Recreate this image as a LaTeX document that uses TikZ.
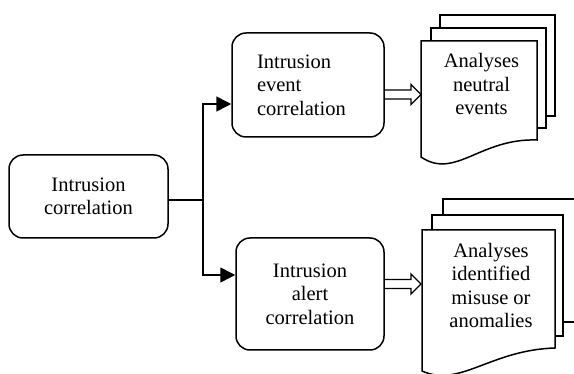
\documentclass[tikz,border=0pt]{standalone}
\usepackage{fontspec}
\setmainfont{Liberation Serif}
\usetikzlibrary{arrows.meta,calc}
\begin{document}
\begin{tikzpicture}[x=1pt,y=-1pt, line width=1.5pt,
 box/.style={draw, rounded corners=14pt, inner sep=0pt, font=\fontsize{20.5}{23.5}\selectfont, align=center},
 lbl/.style={inner sep=0pt, font=\fontsize{20.5}{23.5}\selectfont, align=center},
 doc/.style={draw, fill=white, line join=miter},
 hollow/.style={draw, line width=1.3pt, line join=miter},
 tip/.style={-{Triangle[length=15pt,width=15pt]}}]
\useasboundingbox (0,0) rectangle (574,374);
\clip (0,0) rectangle (574,374);
% boxes
\node[box, minimum width=159pt, minimum height=83pt] (ic) at (88.5,196.5) {Intrusion\\correlation};
\node[box, minimum width=152pt, minimum height=104pt, text width=102pt, align=left] (ev) at (308,85) {Intrusion\\event\\correlation};
\node[box, minimum width=148pt, minimum height=112pt] (al) at (310,294) {Intrusion\\alert\\correlation};
% document stacks
\draw[doc] (440,15) rectangle (555,116);
\draw[doc] (431,28) rectangle (546,128);
\draw[doc] (421,41) -- (537,41) -- (537,140) .. controls (480,138) and (455,180) .. (421,157) -- cycle;
\draw[doc] (443,199) rectangle (600,322);
\draw[doc] (432,215) rectangle (563,336);
\draw[doc] (422,230) -- (555,230) -- (555,348) .. controls (490,350) and (460,388) .. (422,371) -- cycle;
\node[lbl] (t1) at (481.5,84) {Analyses\\neutral\\events};
\node[lbl] (t2) at (491,285.5) {Analyses\\identified\\misuse or\\anomalies};
% connectors
\coordinate (j) at (203,200);
\coordinate (ju) at (203,104);
\coordinate (jd) at (203,275);
\draw (ic.east |- j) -- (j);
\draw[tip] (j) -- (ju) -- (ev.west |- ju);
\draw[tip] (j) -- (jd) -- (al.west |- jd);
% hollow arrows
\coordinate (d1w) at (421,94.5);
\coordinate (d2w) at (421,284);
\draw[hollow] ($(ev.east |- d1w)+(0,-4.5)$) -- ($(d1w)+(-10,-4.5)$) -- ($(d1w)+(-10,-10)$) -- (d1w) -- ($(d1w)+(-10,10)$) -- ($(d1w)+(-10,4.5)$) -- ($(ev.east |- d1w)+(0,4.5)$);
\draw[hollow] ($(al.east |- d2w)+(0,-4.5)$) -- ($(d2w)+(-10,-4.5)$) -- ($(d2w)+(-10,-10)$) -- (d2w) -- ($(d2w)+(-10,10)$) -- ($(d2w)+(-10,4.5)$) -- ($(al.east |- d2w)+(0,4.5)$);
\end{tikzpicture}
\end{document}
